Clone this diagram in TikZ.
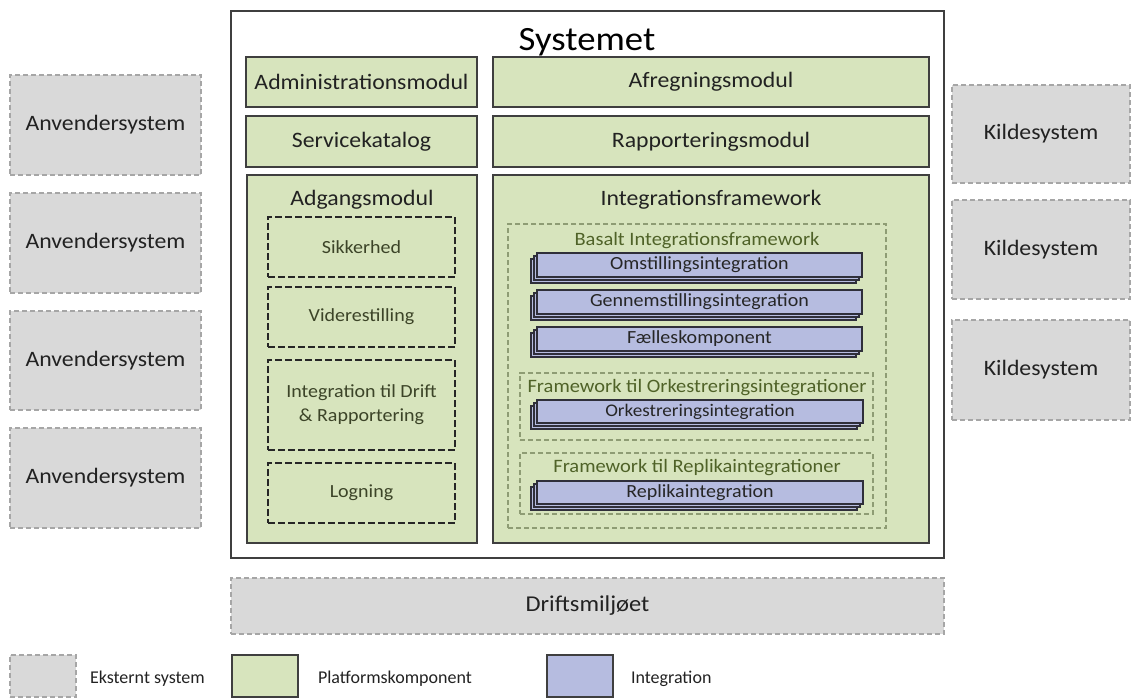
\documentclass[tikz,border=0pt]{standalone}
\usepackage{fontspec}
\setmainfont{Carlito}[FakeStretch=1.08]
\newfontfamily\legfont{Carlito}
\usetikzlibrary{fit}
\definecolor{extfill}{HTML}{D9D9D9}
\definecolor{extdraw}{HTML}{A6A6A6}
\definecolor{platfill}{HTML}{D7E4BD}
\definecolor{platdraw}{HTML}{3F3F3F}
\definecolor{intfill}{HTML}{B6BCE0}
\definecolor{intdraw}{HTML}{2F2F3A}
\definecolor{fwdraw}{HTML}{8E9C74}
\definecolor{fwtext}{HTML}{4F6228}
\definecolor{subtext}{HTML}{3C4428}
\definecolor{maintext}{HTML}{222222}
\tikzset{
  every node/.style={inner sep=0pt, outer sep=0pt},
  extbox/.style={fill=extfill, draw=extdraw, line width=1pt, dash pattern=on 4pt off 2pt, text=maintext, font=\fontsize{16.5}{19}\selectfont},
  platbox/.style={fill=platfill, draw=platdraw, line width=1.4pt, text=maintext, font=\fontsize{16.5}{19}\selectfont},
  subbox/.style={draw=black!85, line width=1.6pt, dash pattern=on 5pt off 2.5pt, text=subtext, align=center, font=\fontsize{13.9}{18}\selectfont},
  fwbox/.style={draw=fwdraw, line width=0.9pt, dash pattern=on 4pt off 2pt},
  fwtitle/.style={text=fwtext, font=\fontsize{14.2}{17}\selectfont},
  intlayer/.style={fill=intfill, draw=intdraw, line width=1pt},
  intbox/.style={fill=intfill, draw=intdraw, line width=1pt, text=black!85, font=\fontsize{13.9}{16}\selectfont},
  title/.style={text=maintext, font=\fontsize{16.5}{19}\selectfont},
  legtext/.style={anchor=west, text=maintext, font=\legfont\fontsize{13.5}{16}\selectfont},
}
\newcommand{\intbar}[4]{% name, left, top, text
  \draw[intlayer] (#2-6,#3+6) rectangle ++(325,24);
  \draw[intlayer] (#2-3,#3+3) rectangle ++(325,24);
  \node[intbox, fit={(#2,#3) (#2+325,#3+24)}] (#1) {};
  \node[intbox, draw=none, fill=none] (#1-t) at (#1.center) {#4};
}
\begin{document}
\begin{tikzpicture}[x=0.75pt,y=-0.75pt]
\useasboundingbox (0,0) rectangle (1131,697);
% external systems left
\node[extbox, fit={(10,75) (201,175)}] (a1) {};
\node[title] (a1t) at (a1.center) {Anvendersystem};
\node[extbox, fit={(10,193) (201,293)}] (a2) {};
\node[title] (a2t) at (a2.center) {Anvendersystem};
\node[extbox, fit={(10,311) (201,410)}] (a3) {};
\node[title] (a3t) at (a3.center) {Anvendersystem};
\node[extbox, fit={(10,428) (201,528)}] (a4) {};
\node[title] (a4t) at (a4.center) {Anvendersystem};
% external systems right
\node[extbox, fit={(952,85) (1130,183)}] (k1) {};
\node[title] (k1t) at (k1.center) {Kildesystem};
\node[extbox, fit={(952,200) (1130,299)}] (k2) {};
\node[title] (k2t) at (k2.center) {Kildesystem};
\node[extbox, fit={(952,320) (1130,420)}] (k3) {};
\node[title] (k3t) at (k3.center) {Kildesystem};
% system
\node[draw=platdraw, fill=white, line width=1.4pt, fit={(231,11) (944,558)}] (sys) {};
\node[text=black, font=\fontsize{25.5}{30}\selectfont] (syst) at (587,42) {Systemet};
\node[platbox, fit={(246,57) (477,107)}] (adm) {};
\node[title] (admt) at (adm.center) {Administrationsmodul};
\node[platbox, fit={(493,57) (929,107)}] (afr) {};
\node[title] (afrt) at (afr.center) {Afregningsmodul};
\node[platbox, fit={(246,116) (477,167)}] (svc) {};
\node[title] (svct) at (svc.center) {Servicekatalog};
\node[platbox, fit={(493,116) (929,167)}] (rap) {};
\node[title] (rapt) at (rap.center) {Rapporteringsmodul};
\node[platbox, fit={(247,175) (477,543)}] (adg) {};
\node[title] (adgt) at (362,200) {Adgangsmodul};
\node[platbox, fit={(493,175) (929,543)}] (ifw) {};
\node[title] (ifwt) at (711,200) {Integrationsframework};
% Adgangsmodul parts
\node[subbox, fit={(268,217) (455,277)}] (sik) {};
\node[subbox, draw=none] (sikt) at (sik.center) {Sikkerhed};
\node[subbox, fit={(268,287) (455,347)}] (vid) {};
\node[subbox, draw=none] (vidt) at (vid.center) {Viderestilling};
\node[subbox, fit={(268,360) (455,450)}] (idr) {};
\node[subbox, draw=none] (idrt) at (idr.center) {Integration til Drift\\\& Rapportering};
\node[subbox, fit={(268,463) (455,523)}] (log) {};
\node[subbox, draw=none] (logt) at (log.center) {Logning};
% frameworks
\node[fwbox, fit={(508,224) (886,528)}] (bas) {};
\node[fwtitle] (bast) at (697,241) {Basalt Integrationsframework};
\intbar{oms}{537}{253}{Omstillingsintegration}
\intbar{gen}{537}{290}{Gennemstillingsintegration}
\intbar{fae}{537}{327}{Fælleskomponent}
\node[fwbox, fit={(520,373) (873,440)}] (ork) {};
\node[fwtitle] (orkt) at (697,388) {Framework til Orkestreringsintegrationer};
\draw[intlayer] (531,406) rectangle ++(326,23);
\draw[intlayer] (534,403) rectangle ++(326,23);
\node[intbox, fit={(537,400) (863,423)}] (orki) {};
\node[intbox, draw=none, fill=none, font=\fontsize{13.3}{15}\selectfont] (orkit) at (orki.center) {Orkestreringsintegration};
\node[fwbox, fit={(520,453) (873,514)}] (rep) {};
\node[fwtitle] (rept) at (697,468) {Framework til Replikaintegrationer};
\draw[intlayer] (531,487) rectangle ++(326,23);
\draw[intlayer] (534,484) rectangle ++(326,23);
\node[intbox, fit={(537,481) (863,504)}] (repi) {};
\node[intbox, draw=none, fill=none] (repit) at (repi.center) {Replikaintegration};
% Driftsmiljoet
\node[extbox, fit={(231,578) (944,634)}] (drift) {};
\node[text=maintext, font=\fontsize{17}{20}\selectfont] (driftt) at (drift.center) {Driftsmiljøet};
% legend
\node[extbox, fit={(10,655) (76,697)}] (lg1) {};
\node[legtext] (lg1t) at (90,679) {Eksternt system};
\node[platbox, fit={(232,655) (298,697)}] (lg2) {};
\node[legtext] (lg2t) at (318,679) {Platformskomponent};
\node[platbox, fill=intfill, fit={(547,655) (613,697)}] (lg3) {};
\node[legtext] (lg3t) at (631,679) {Integration};
\end{tikzpicture}
\end{document}
